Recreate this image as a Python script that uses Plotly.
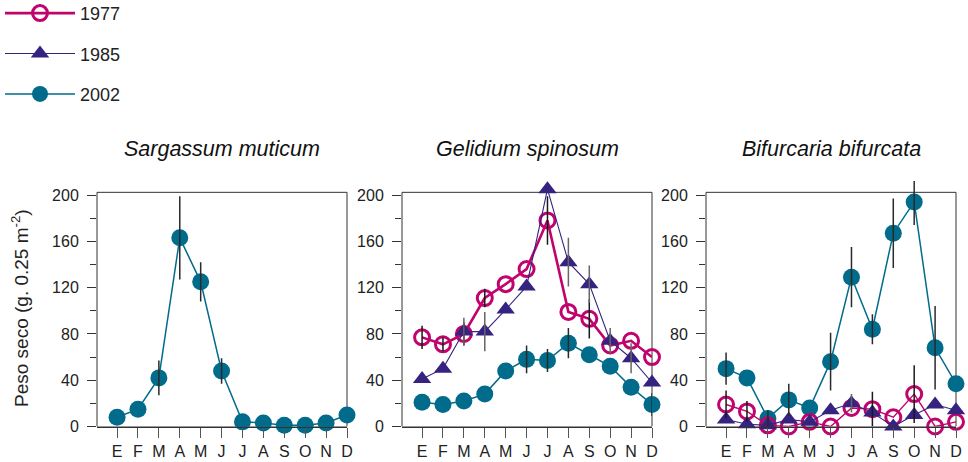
import plotly.graph_objects as go

months = ["E", "F", "M", "A", "M", "J", "J", "A", "S", "O", "N", "D"]
species = ["Sargassum muticum", "Gelidium spinosum", "Bifurcaria bifurcata"]
years = ["1977", "1985", "2002"]

# Sargassum muticum
sarg_2002 = [8, 15, 42, 163, 125, 48, 4, 3, 1, 1, 3, 10]
sarg_2002_err = [0, 0, 15, 36, 17, 11, 0, 0, 0, 0, 0, 0]

# Gelidium spinosum
gel_1977 = [77, 71, 80, 111, 123, 136, 178, 99, 93, 70, 74, 60]
gel_1977_err = [10, 6, 10, 8, 0, 0, 21, 0, 17, 0, 0, 0]
gel_1985 = [41, 50, 82, 82, 101, 121, 205, 142, 123, 74, 59, 38]
gel_1985_err = [0, 0, 12, 17, 0, 0, 0, 21, 16, 11, 13, 0]
gel_2002 = [21, 19, 22, 28, 48, 58, 57, 72, 62, 52, 34, 19]
gel_2002_err = [0, 0, 0, 0, 0, 12, 10, 13, 0, 0, 0, 10]

# Bifurcaria bifurcata
bif_1977 = [19, 13, 1, 0, 4, 0, 16, 15, 8, 28, 0, 4]
bif_1977_err = [12, 9, 0, 0, 0, 0, 0, 15, 0, 25, 0, 0]
bif_1985 = [6, 2, 1, 6, 4, 14, 20, 12, 0, 10, 19, 14]
bif_1985_err = [0, 0, 0, 0, 0, 0, 8, 0, 0, 0, 0, 0]
bif_2002 = [50, 42, 7, 23, 16, 56, 129, 84, 167, 194, 68, 37]
bif_2002_err = [14, 0, 7, 14, 0, 25, 26, 13, 30, 20, 36, 0]

y_ticks = [0, 40, 80, 120, 160, 200]
y_minor = [20, 60, 100, 140, 180]
y_frame_top = 202.3

x_idx = list(range(len(months)))

C77 = "#C0046E"
C85 = "#35237F"
C02 = "#006B8A"

style = {
    "1977": dict(color=C77, symbol="circle-open", size=15, mline=3, err="#1a1a1a"),
    "1985": dict(color=C85, symbol="triangle-up", size=16, mline=0, err="#666666"),
    "2002": dict(color=C02, symbol="circle", size=17, mline=0, err="#2a2a2a"),
}

panels = [
    {"2002": (sarg_2002, sarg_2002_err)},
    {"2002": (gel_2002, gel_2002_err), "1977": (gel_1977, gel_1977_err), "1985": (gel_1985, gel_1985_err)},
    {"2002": (bif_2002, bif_2002_err), "1977": (bif_1977, bif_1977_err), "1985": (bif_1985, bif_1985_err)},
]
line_w = [
    {"2002": 1.5},
    {"2002": 1.5, "1977": 2.6, "1985": 1.1},
    {"2002": 1.5, "1977": 1.4, "1985": 1.1},
]

W, H = 968, 462
xdom_px = [(97, 347), (402, 652), (706, 956)]
px_per_unit = (426.5 - 195.0) / 200.0
y_range_top = 212
ydom = [(H - 426.5) / H, (H - (426.5 - y_range_top * px_per_unit)) / H]

fig = go.Figure()
shown = set()
rank = {"1977": 1, "1985": 2, "2002": 3}
for p, series in enumerate(panels):
    xa = "x" if p == 0 else f"x{p+1}"
    ya = "y" if p == 0 else f"y{p+1}"
    for yr, (vals, errs) in series.items():
        st = style[yr]
        fig.add_trace(go.Scatter(
            x=x_idx, y=vals, xaxis=xa, yaxis=ya,
            mode="lines+markers", name=yr,
            legendgroup=yr, legendrank=rank[yr],
            showlegend=yr not in shown,
            line=dict(color=st["color"], width=line_w[p][yr]),
            marker=dict(symbol=st["symbol"], size=st["size"], color=st["color"],
                        line=dict(color=st["color"], width=st["mline"])),
            cliponaxis=False,
        ))
        shown.add(yr)
    # error bars drawn on top
    for yr, (vals, errs) in series.items():
        st = style[yr]
        fig.add_trace(go.Scatter(
            x=x_idx, y=vals, xaxis=xa, yaxis=ya, mode="markers",
            showlegend=False, hoverinfo="skip",
            marker=dict(size=2, opacity=0),
            error_y=dict(type="data", array=errs, symmetric=True, width=0,
                         thickness=1.5, color=st["err"]),
            cliponaxis=False,
        ))

font_main = "Liberation Sans, Arial, sans-serif"
layout = dict(
    width=W, height=H,
    margin=dict(l=0, r=0, t=0, b=0, autoexpand=False),
    paper_bgcolor="white", plot_bgcolor="rgba(0,0,0,0)",
    font=dict(family=font_main, size=16, color="#222"),
    legend=dict(x=0.0, y=1.011, xanchor="left", yanchor="top",
                font=dict(size=18, color="#222"), tracegroupgap=14,
                traceorder="grouped", itemwidth=70, bgcolor="rgba(0,0,0,0)"),
    showlegend=True,
)
shapes = []
for p in range(3):
    xk = "xaxis" if p == 0 else f"xaxis{p+1}"
    yk = "yaxis" if p == 0 else f"yaxis{p+1}"
    xs = "x" if p == 0 else f"x{p+1}"
    ys = "y" if p == 0 else f"y{p+1}"
    x0, x1 = xdom_px[p]
    layout[xk] = dict(
        domain=[x0 / W, x1 / W], anchor=ys,
        range=[-0.96, 11], tickmode="array", tickvals=x_idx, ticktext=months,
        ticks="outside", ticklen=10, tickcolor="#555", tickwidth=1.2,
        showline=True, linecolor="#333", linewidth=1, mirror=False,
        showgrid=False, zeroline=False, fixedrange=True,
        tickfont=dict(size=16, color="#222"),
    )
    layout[yk] = dict(
        domain=list(ydom), anchor=xs,
        range=[0, y_range_top], tickmode="array", tickvals=y_ticks,
        ticks="outside", ticklen=9, tickcolor="#333", tickwidth=1,
        ticklabelstandoff=5,
        minor=dict(tickvals=y_minor, ticks="outside", ticklen=6,
                   tickcolor="#333", tickwidth=1, showgrid=False),
        showline=False, showgrid=False, zeroline=False, fixedrange=True,
        tickfont=dict(size=16, color="#222"),
    )
    shapes.append(dict(type="rect", xref=f"{xs} domain", yref=ys,
                       x0=0, x1=1, y0=0, y1=y_frame_top,
                       line=dict(color="#333", width=1), fillcolor="rgba(0,0,0,0)",
                       layer="below"))
fig.update_layout(**layout)
fig.update_layout(shapes=shapes)

annotations = []
for p, name in enumerate(species):
    x0, x1 = xdom_px[p]
    annotations.append(dict(
        text=f"<i>{name}</i>", x=(x0 + x1) / 2 / W, y=(H - 149) / H,
        xref="paper", yref="paper", xanchor="center", yanchor="middle",
        showarrow=False,
        font=dict(family=font_main, size=21.5, color="#111"),
    ))
annotations.append(dict(
    text="Peso seco (g. 0.25 m<sup>-2</sup>)", x=20 / W, y=(H - 308) / H,
    xref="paper", yref="paper", xanchor="center", yanchor="middle",
    textangle=-90, showarrow=False, font=dict(size=19, color="#222"),
))
fig.update_layout(annotations=annotations)

fig.write_html("out.html",
               config={"displayModeBar": False},
               post_script="document.body.style.margin='0';document.body.style.overflow='hidden';")
